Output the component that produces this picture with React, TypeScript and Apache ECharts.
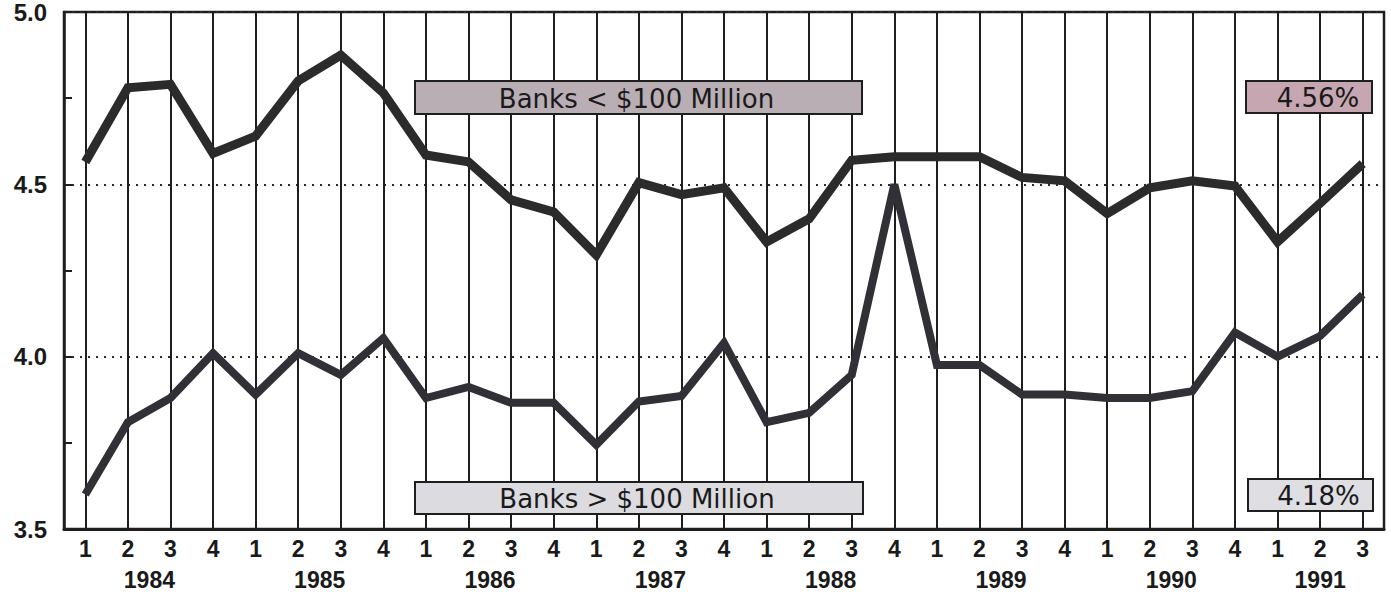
import React, { useEffect, useRef } from "react";
import * as echarts from "echarts";

const years = ["1984", "1985", "1986", "1987", "1988", "1989", "1990", "1991"];
const quarters: string[] = [];
years.forEach((y) => {
  const n = y === "1991" ? 3 : 4;
  for (let q = 1; q <= n; q++) quarters.push(`${y} Q${q}`);
});

const smallBanks = [
  4.565, 4.78, 4.79, 4.59,
  4.64, 4.80, 4.875, 4.765,
  4.585, 4.565, 4.455, 4.42,
  4.295, 4.505, 4.47, 4.49,
  4.333, 4.40, 4.57, 4.58,
  4.58, 4.58, 4.52, 4.51,
  4.415, 4.49, 4.51, 4.495,
  4.333, 4.445, 4.56,
];
const largeBanks = [
  3.60, 3.81, 3.88, 4.01,
  3.89, 4.01, 3.947, 4.054,
  3.88, 3.912, 3.866, 3.866,
  3.744, 3.87, 3.886, 4.04,
  3.81, 3.837, 3.947, 4.50,
  3.976, 3.976, 3.89, 3.89,
  3.88, 3.88, 3.90, 4.07,
  4.0, 4.06, 4.18,
];
const yTicks = [3.5, 4.0, 4.5, 5.0];
const labels = {
  small: "Banks < $100 Million",
  large: "Banks > $100 Million",
  smallLast: "4.56%",
  largeLast: "4.18%",
};

const FONT = "'Liberation Sans', Arial, Helvetica, sans-serif";
const BOXFONT = "'DejaVu Sans', 'Liberation Sans', sans-serif";

export default function App() {
  const ref = useRef<HTMLDivElement>(null);
  useEffect(() => {
    if (!ref.current) return;
    const chart = echarts.init(ref.current, undefined, { renderer: "svg" });
    const boxText = (
      x: number, y: number, w: number, h: number, fill: string, text: string, dx: number
    ) => ({
      type: "group",
      children: [
        {
          type: "rect",
          shape: { x, y, width: w, height: h },
          style: { fill, stroke: "#1e1e1e", lineWidth: 2 },
          z: 20,
        },
        {
          type: "text",
          x: x + w / 2 + dx,
          y: y + h / 2 + 1,
          style: {
            text,
            fill: "#1a1a1a",
            font: `normal 26px ${BOXFONT}`,
            align: "center",
            verticalAlign: "middle",
          },
          z: 21,
        },
      ],
    });
    const labelStyle = {
      color: "#1a1a1a",
      fontFamily: FONT,
      fontWeight: "bold",
      fontSize: 23,
    };
    chart.setOption({
      animation: false,
      backgroundColor: "#ffffff",
      grid: {
        left: 64,
        top: 12,
        width: 1320,
        height: 517,
        show: true,
        borderColor: "#1e1e1e",
        borderWidth: 2.5,
      },
      xAxis: [
        {
          type: "category",
          data: quarters,
          boundaryGap: true,
          axisLine: { show: true, lineStyle: { color: "#1e1e1e", width: 3 } },
          axisTick: { show: false },
          splitLine: { show: false },
          axisLabel: {
            interval: 0,
            margin: 8,
            ...labelStyle,
            formatter: (v: string) => v.split(" Q")[1],
          },
        },
        {
          type: "category",
          data: quarters,
          position: "bottom",
          offset: 31,
          boundaryGap: true,
          axisLine: { show: false },
          axisTick: { show: false },
          splitLine: { show: false },
          axisLabel: {
            interval: 0,
            margin: 8,
            ...labelStyle,
            formatter: (v: string) => {
              const [y, q] = v.split(" Q");
              if (q !== "2") return "";
              return y === "1991" ? `{c|${y}}` : `{s|${y}}`;
            },
            rich: {
              s: { padding: [0, 0, 0, 43], ...labelStyle },
              c: { ...labelStyle },
            },
          },
        },
      ],
      yAxis: {
        type: "value",
        min: yTicks[0],
        max: yTicks[yTicks.length - 1],
        interval: 0.5,
        axisLine: { show: true, lineStyle: { color: "#1e1e1e", width: 2.5 } },
        axisTick: { show: true, inside: true, length: 8, lineStyle: { color: "#1e1e1e", width: 2 } },
        minorTick: { show: true, splitNumber: 2, length: 8, lineStyle: { color: "#1e1e1e", width: 2 } },
        splitLine: { show: true, lineStyle: { color: "#2a2a2a", width: 2, type: [2, 6] } },
        axisLabel: {
          margin: 17,
          ...labelStyle,
          fontSize: 24,
          formatter: (v: number) => v.toFixed(1),
        },
      },
      series: [
        {
          type: "line",
          data: quarters.map(() => null),
          z: 1,
          silent: true,
          markLine: {
            silent: true,
            symbol: "none",
            label: { show: false },
            lineStyle: { color: "#1e1e1e", width: 2, type: "solid" },
            data: quarters.map((q) => ({ xAxis: q })),
          },
        },
        {
          name: labels.large,
          type: "line",
          data: largeBanks,
          symbol: "none",
          z: 5,
          lineStyle: { color: "#303036", width: 8, join: "miter" },
        },
        {
          name: labels.small,
          type: "line",
          data: smallBanks,
          symbol: "none",
          z: 6,
          lineStyle: { color: "#2b2b2b", width: 9, join: "miter" },
        },
      ],
      graphic: [
        boxText(415, 81, 447, 33, "#b8aeb4", labels.small, -2),
        boxText(1246, 81, 126, 32, "#c6a6b0", labels.smallLast, 9),
        boxText(415, 482, 448, 32, "#dcdbe0", labels.large, -2),
        boxText(1248, 479, 125, 32, "#dfdee3", labels.largeLast, 8),
      ],
    });
    return () => chart.dispose();
  }, []);
  return (
    <div
      ref={ref}
      style={{ position: "fixed", left: 0, top: 0, width: 1391, height: 594, background: "#fff" }}
    />
  );
}
